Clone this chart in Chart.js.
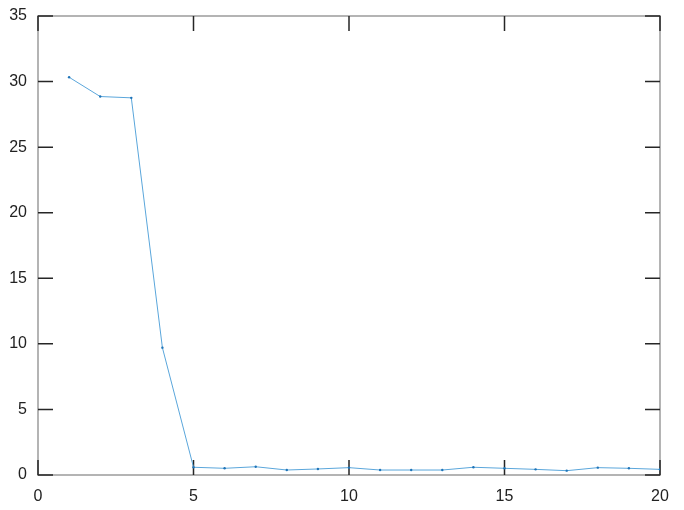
<!DOCTYPE html>
<html>
<head>
<meta charset="utf-8">
<script src="https://cdn.jsdelivr.net/npm/chart.js@4/dist/chart.umd.min.js"></script>
<style>
  html, body { margin: 0; padding: 0; background: #fff; }
  #wrap { width: 684px; height: 510px; }
</style>
</head>
<body>
<div id="wrap"><canvas id="lineChart" width="684" height="510"></canvas></div>
<script>
// values
const xValues = [1, 2, 3, 4, 5, 6, 7, 8, 9, 10, 11, 12, 13, 14, 15, 16, 17, 18, 19, 20];
const yValues = [30.33, 28.86, 28.76, 9.71, 0.59, 0.51, 0.63, 0.38, 0.46, 0.56,
                 0.38, 0.38, 0.38, 0.59, 0.51, 0.43, 0.33, 0.56, 0.51, 0.43];
const xTicks = [0, 5, 10, 15, 20];
const yTicks = [0, 5, 10, 15, 20, 25, 30, 35];

// gnuplot-like box with inward ticks on all four sides
const frameTicks = {
  id: 'frameTicks',
  beforeDatasetsDraw(chart) {
    const { ctx, chartArea: a, scales } = chart;
    const len = 15;
    ctx.save();
    ctx.strokeStyle = '#b4b4b4';
    ctx.lineWidth = 2;
    ctx.strokeRect(a.left, a.top, a.right - a.left, a.bottom - a.top);

    ctx.strokeStyle = '#262626';
    ctx.lineWidth = 1.5;
    ctx.beginPath();
    xTicks.forEach(v => {
      const px = scales.x.getPixelForValue(v);
      ctx.moveTo(px, a.bottom);
      ctx.lineTo(px, a.bottom - len);
      ctx.moveTo(px, a.top);
      ctx.lineTo(px, a.top + len);
    });
    yTicks.forEach(v => {
      const py = scales.y.getPixelForValue(v);
      ctx.moveTo(a.left, py);
      ctx.lineTo(a.left + len, py);
      ctx.moveTo(a.right, py);
      ctx.lineTo(a.right - len, py);
    });
    ctx.stroke();
    ctx.restore();
  }
};

new Chart(document.getElementById('lineChart'), {
  type: 'line',
  data: {
    datasets: [{
      data: xValues.map((x, i) => ({ x: x, y: yValues[i] })),
      borderColor: '#5aa6db',
      borderWidth: 1,
      pointRadius: 1.2,
      pointBackgroundColor: '#1f74b8',
      pointBorderWidth: 0,
      tension: 0
    }]
  },
  options: {
    responsive: false,
    animation: false,
    layout: { padding: { top: 16, right: 24, left: 0, bottom: 0 } },
    plugins: {
      legend: { display: false },
      tooltip: { enabled: false }
    },
    scales: {
      x: {
        type: 'linear',
        min: 0,
        max: 20,
        afterFit: (s) => { s.height = 35; s.paddingLeft = 0; s.paddingRight = 0; },
        afterBuildTicks: (s) => { s.ticks = xTicks.map(v => ({ value: v })); },
        grid: { display: false, drawTicks: false },
        border: { display: false },
        ticks: { padding: 12, color: '#222', font: { family: 'Liberation Sans', size: 16 } }
      },
      y: {
        min: 0,
        max: 35,
        afterFit: (s) => { s.width = 38; s.paddingTop = 0; s.paddingBottom = 0; },
        afterBuildTicks: (s) => { s.ticks = yTicks.map(v => ({ value: v })); },
        grid: { display: false, drawTicks: false },
        border: { display: false },
        ticks: { padding: 11, color: '#222', font: { family: 'Liberation Sans', size: 16 } }
      }
    }
  },
  plugins: [frameTicks]
});
</script>
</body>
</html>
